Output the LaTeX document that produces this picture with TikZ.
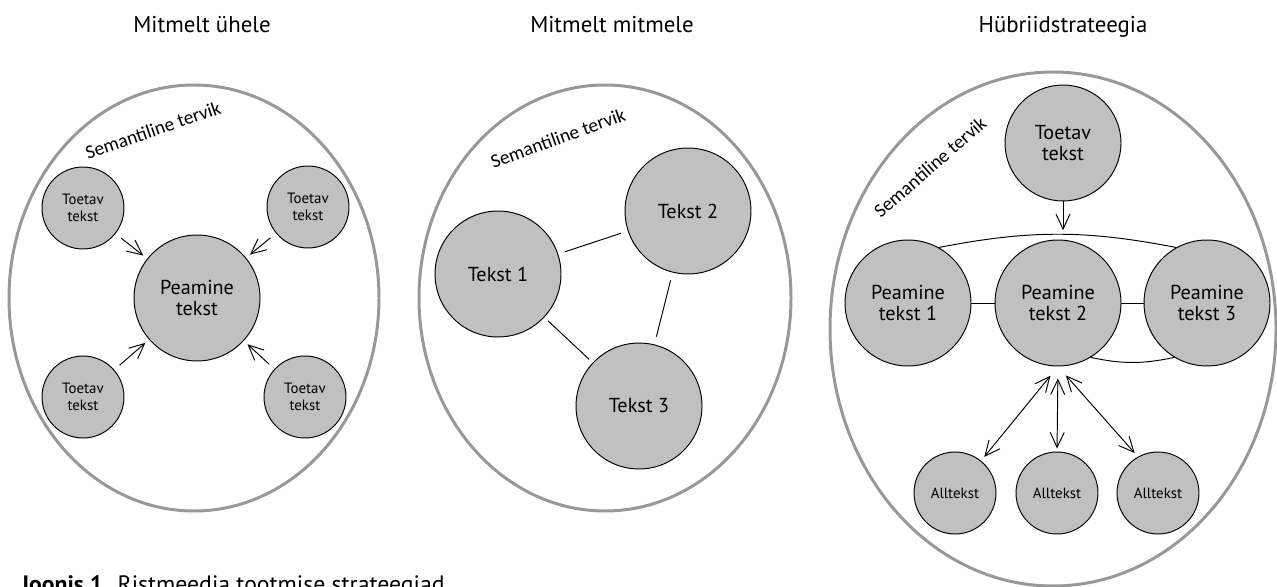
\documentclass[tikz,border=0pt]{standalone}
\usepackage{fontspec}
\setmainfont{PT Sans}
\newfontfamily\labelfont{Carlito}
\usetikzlibrary{arrows.meta}
\definecolor{bubblegray}{HTML}{C0C0C0}
\definecolor{framegray}{HTML}{989898}
\tikzset{
  frame/.style={draw=framegray,line width=1.7pt},
  bubble/.style={circle,draw=black,fill=bubblegray,line width=0.55pt,inner sep=0pt,align=center},
  bigbubble/.style={bubble,minimum size=2.52cm,font=\fontsize{11.5}{12}\selectfont},
  smallbubble/.style={bubble,minimum size=1.64cm,font=\fontsize{8.5}{10}\selectfont},
  topbubble/.style={bubble,minimum size=2.32cm,font=\fontsize{11.5}{12}\selectfont},
  conn/.style={line width=0.55pt},
  arr/.style={conn,-{Straight Barb[length=3mm,width=2.8mm]}},
  biarr/.style={conn,{Straight Barb[length=3mm,width=2.8mm]}-{Straight Barb[length=3mm,width=2.8mm]}},
  heading/.style={anchor=base,font=\fontsize{13}{15}\selectfont},
  wholelabel/.style={font=\labelfont\fontsize{11}{13}\selectfont}
}
\begin{document}
\begin{tikzpicture}[x=0.02cm,y=-0.02cm]
\useasboundingbox (0,0) rectangle (1277,587);
\node[heading] (h1) at (202,33) {Mitmelt ühele};
\node[heading] (h2) at (612,33) {Mitmelt mitmele};
\node[heading] (h3) at (1063,33) {Hübriidstrateegia};
\begin{scope}
\draw[frame] (194,298) ellipse (185 and 213);
\node[wholelabel,rotate=19] (w1) at (153,130) {Semantiline tervik};
\node[bigbubble] (main) at (197,298) {Peamine\\tekst};
\node[smallbubble] (tl) at (83,208) {Toetav\\tekst};
\node[smallbubble] (tr) at (308,207) {Toetav\\tekst};
\node[smallbubble] (bl) at (83,397) {Toetav\\tekst};
\node[smallbubble] (br) at (305,397) {Toetav\\tekst};
\foreach \s in {tl,tr,bl,br} \draw[arr,shorten <=1.4mm,shorten >=1mm] (\s) -- (main);
\end{scope}
\begin{scope}
\draw[frame] (605,298) ellipse (186 and 213);
\node[wholelabel,rotate=20] (w2) at (558,138) {Semantiline tervik};
\node[bigbubble] (t1) at (498,274) {Tekst 1};
\node[bigbubble] (t2) at (688,211) {Tekst 2};
\node[bigbubble] (t3) at (639,406) {Tekst 3};
\draw[conn,shorten <=1.4mm,shorten >=1.4mm] (t1) -- (t2);
\draw[conn,shorten <=1.6mm,shorten >=1.6mm] (t2) -- (t3);
\draw[conn,shorten <=1mm,shorten >=1mm] (t1) -- (t3);
\end{scope}
\begin{scope}
\draw[frame] (1053,329) ellipse (223 and 257);
\node[wholelabel,rotate=41] (w3) at (930,167) {Semantiline tervik};
\node[topbubble] (sup) at (1063,143) {Toetav\\tekst};
\node[bigbubble] (p1) at (908,303) {Peamine\\tekst 1};
\node[bigbubble] (p2) at (1058,303) {Peamine\\tekst 2};
\node[bigbubble] (p3) at (1207,303) {Peamine\\tekst 3};
\node[smallbubble] (a1) at (955,493) {Alltekst};
\node[smallbubble] (a2) at (1057,493) {Alltekst};
\node[smallbubble] (a3) at (1158,493) {Alltekst};
\draw[conn] (p1) -- (p2);
\draw[conn] (p2) -- (p3);
\draw[conn] (p1.61) to[bend left=11] coordinate[midway] (arctop) (p3.119);
\draw[conn] (p2.-59) to[bend right=12] (p3.-121);
\draw[arr,shorten >=0.8mm] (sup.south) -- (sup.south |- arctop);
\draw[biarr,shorten <=2.4mm,shorten >=1mm] (p2.south) -- (a1.51);
\draw[biarr,shorten <=2.4mm,shorten >=0.6mm] (p2.south) -- (a2.north);
\draw[biarr,shorten <=2.4mm,shorten >=1mm] (p2.south) -- (a3.119);
\end{scope}
\node[anchor=base west,font=\fontsize{13.5}{15}\selectfont] (cap) at (15,592) {\textbf{Joonis 1.} Ristmeedia tootmise strateegiad};
\end{tikzpicture}
\end{document}
